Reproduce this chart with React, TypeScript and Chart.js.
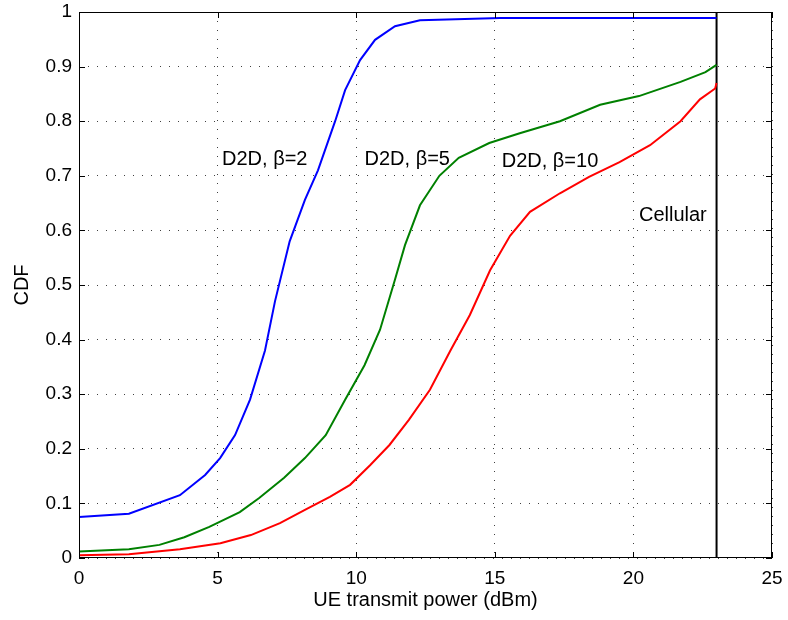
import React, { useEffect, useRef } from "react";
import { Chart, registerables } from "chart.js";

Chart.register(...registerables);

// ---- data ----
const blueX = [0, 0, 1.8, 3.64, 4.55, 5.09, 5.63, 6.17, 6.71, 7.07, 7.6, 8.15, 8.62, 9.24, 9.6, 10.14, 10.68, 11.4, 12.3, 15.2, 23];
const blueY = [0, 0.075, 0.081, 0.115, 0.152, 0.183, 0.225, 0.29, 0.38, 0.47, 0.58, 0.656, 0.71, 0.8, 0.857, 0.912, 0.949, 0.974, 0.985, 0.989, 0.989];

const greenX = [0, 0, 1.8, 2.9, 3.8, 4.7, 5.8, 6.5, 7.4, 8.15, 8.9, 9.6, 10.3, 10.86, 11.4, 11.76, 12.3, 13.0, 13.7, 14.8, 15.9, 17.35, 18.8, 20.2, 21.7, 22.6, 23];
const greenY = [0, 0.012, 0.016, 0.024, 0.038, 0.057, 0.084, 0.11, 0.147, 0.183, 0.225, 0.29, 0.353, 0.418, 0.51, 0.573, 0.646, 0.7, 0.733, 0.76, 0.778, 0.8, 0.83, 0.846, 0.872, 0.89, 0.903];

const redX = [0, 0, 1.8, 3.64, 5.1, 6.2, 7.25, 8.15, 9.05, 9.78, 10.5, 11.2, 11.9, 12.66, 13.4, 14.1, 14.83, 15.55, 16.27, 17.35, 18.4, 19.5, 20.6, 21.7, 22.4, 22.95, 23];
const redY = [0, 0.005, 0.007, 0.016, 0.027, 0.042, 0.064, 0.088, 0.112, 0.134, 0.17, 0.207, 0.253, 0.308, 0.38, 0.445, 0.527, 0.59, 0.634, 0.668, 0.698, 0.725, 0.756, 0.8, 0.84, 0.86, 0.87];

const cellularX = [23, 23];
const cellularY = [0, 1];

const labelTexts = ["D2D, \u03B2=2", "D2D, \u03B2=5", "D2D, \u03B2=10", "Cellular"];
const labelX = [5.16, 10.3, 15.25, 20.2];
const labelY = [0.729, 0.729, 0.727, 0.627];

const xTickValues = [0, 5, 10, 15, 20, 25];
const yTickValues = [0, 0.1, 0.2, 0.3, 0.4, 0.5, 0.6, 0.7, 0.8, 0.9, 1];

const FONT = "'Liberation Sans', Arial, Helvetica, sans-serif";

const toPoints = (xs: number[], ys: number[]) => xs.map((x, i) => ({ x, y: ys[i] }));

const framePlugin = {
  id: "frame",
  afterDatasetsDraw(chart: any) {
    const { ctx, chartArea, scales } = chart;
    const { left, right, top, bottom } = chartArea;
    ctx.save();
    // text annotations
    ctx.fillStyle = "#000";
    ctx.font = `20px ${FONT}`;
    ctx.textAlign = "left";
    ctx.textBaseline = "middle";
    labelTexts.forEach((t, i) => {
      ctx.fillText(t, scales.x.getPixelForValue(labelX[i]), scales.y.getPixelForValue(labelY[i]));
    });
    // box
    ctx.strokeStyle = "#000";
    ctx.lineWidth = 1;
    ctx.strokeRect(Math.round(left) + 0.5, Math.round(top) + 0.5, Math.round(right - left) - 1, Math.round(bottom - top) - 1);
    // inward ticks
    const tl = 6;
    ctx.beginPath();
    xTickValues.forEach((v) => {
      const px = Math.round(scales.x.getPixelForValue(v)) + 0.5;
      ctx.moveTo(px, bottom);
      ctx.lineTo(px, bottom - tl);
      ctx.moveTo(px, top);
      ctx.lineTo(px, top + tl);
    });
    yTickValues.forEach((v) => {
      const py = Math.round(scales.y.getPixelForValue(v)) + 0.5;
      ctx.moveTo(left, py);
      ctx.lineTo(left + tl, py);
      ctx.moveTo(right, py);
      ctx.lineTo(right - tl, py);
    });
    ctx.stroke();
    ctx.restore();
  },
};

export default function App() {
  const ref = useRef<HTMLCanvasElement | null>(null);
  useEffect(() => {
    if (!ref.current) return;
    const chart = new Chart(ref.current, {
      type: "line",
      data: {
        datasets: [
          { label: "D2D, β=2", data: toPoints(blueX, blueY), borderColor: "#0000ff", borderWidth: 2 },
          { label: "D2D, β=5", data: toPoints(greenX, greenY), borderColor: "#008000", borderWidth: 2 },
          { label: "D2D, β=10", data: toPoints(redX, redY), borderColor: "#ff0000", borderWidth: 2 },
          { label: "Cellular", data: toPoints(cellularX, cellularY), borderColor: "#000000", borderWidth: 2 },
        ],
      },
      options: {
        responsive: false,
        animation: false,
        parsing: false as any,
        elements: { point: { radius: 0 }, line: { tension: 0 } },
        layout: { padding: { left: 0, right: 16, top: 12, bottom: 0 } },
        plugins: { legend: { display: false }, tooltip: { enabled: false } },
        scales: {
          x: {
            type: "linear",
            min: 0,
            max: 25,
            afterFit: (s: any) => { s.height = 62; s.paddingLeft = 0; s.paddingRight = 0; },
            afterBuildTicks: (s: any) => { s.ticks = xTickValues.map((v) => ({ value: v })); },
            ticks: { color: "#000", font: { family: FONT, size: 19 }, padding: 9, maxRotation: 0, autoSkip: false },
            grid: { color: "rgba(0,0,0,0.75)", lineWidth: 1, drawTicks: false },
            border: { display: false, dash: [1, 8] },
            title: { display: true, text: "UE transmit power (dBm)", color: "#000", font: { family: FONT, size: 20 }, padding: { top: 0, bottom: 8 } },
          },
          y: {
            type: "linear",
            min: 0,
            max: 1,
            afterFit: (s: any) => { s.width = 79; s.paddingTop = 0; s.paddingBottom = 0; },
            afterBuildTicks: (s: any) => { s.ticks = yTickValues.map((v) => ({ value: v })); },
            ticks: {
              color: "#000",
              font: { family: FONT, size: 19 },
              padding: 7,
              autoSkip: false,
              callback: (v: any) => String(Number(Number(v).toFixed(1))),
            },
            grid: { color: "rgba(0,0,0,0.75)", lineWidth: 1, drawTicks: false },
            border: { display: false, dash: [1, 8] },
            title: { display: true, text: "CDF", color: "#000", font: { family: FONT, size: 20 }, padding: { top: 10, bottom: 0 } },
          },
        },
      },
      plugins: [framePlugin],
    } as any);
    return () => chart.destroy();
  }, []);
  return (
    <div style={{ position: "absolute", left: 0, top: 0, width: 788, height: 620, background: "#fff" }}>
      <canvas ref={ref} width={788} height={620} />
    </div>
  );
}
